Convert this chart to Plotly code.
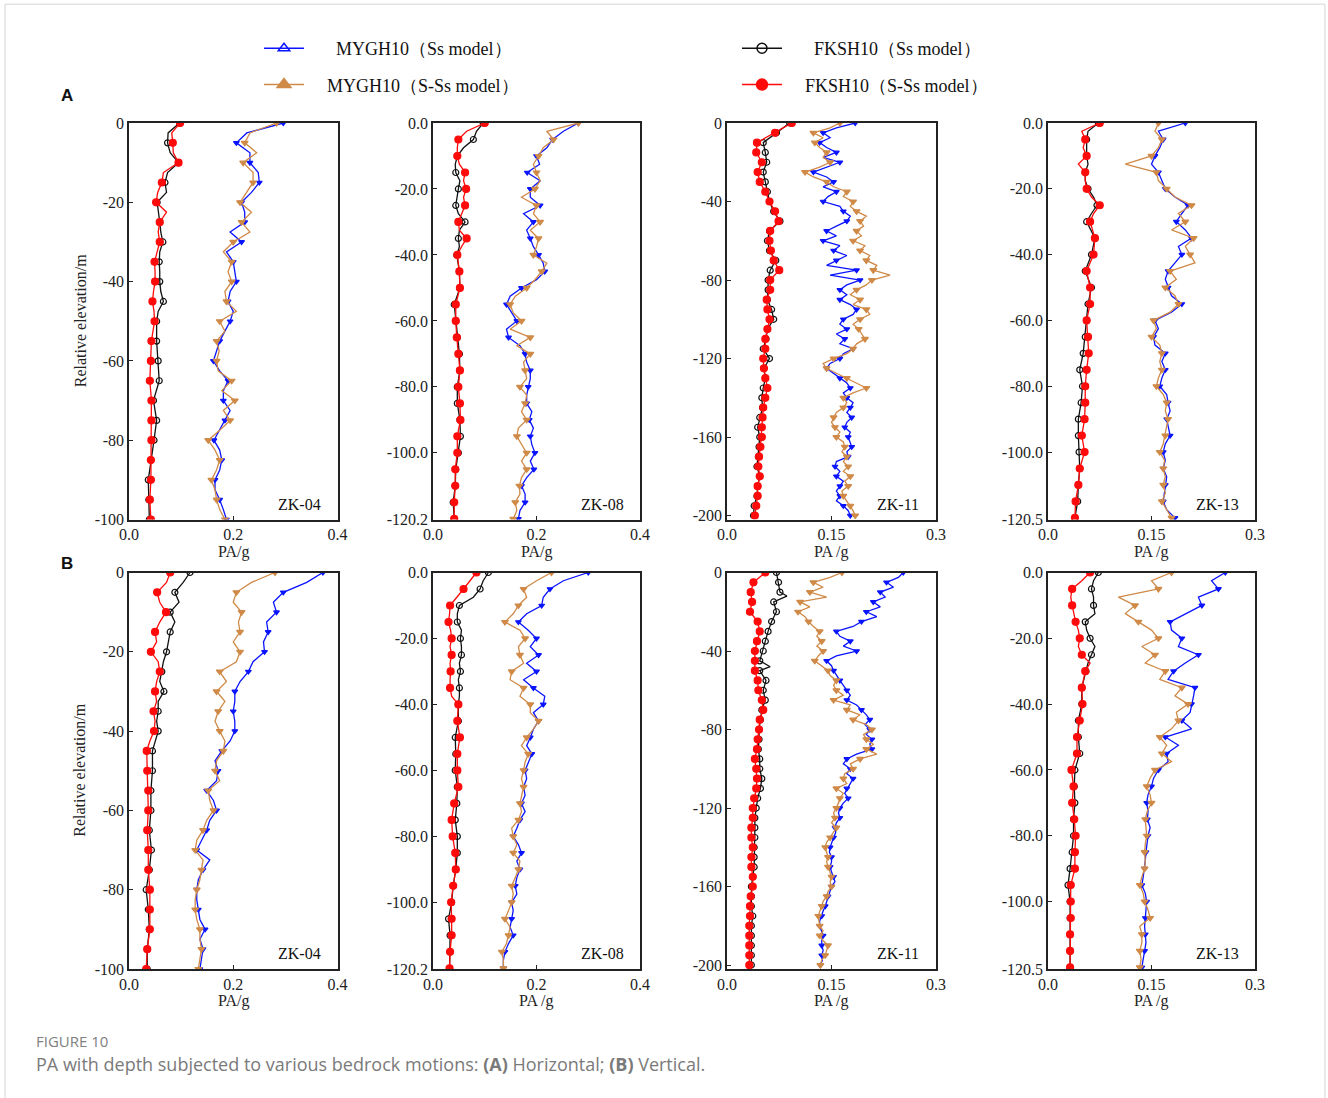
import plotly.graph_objects as go


def depths(*segments):
    """Relative elevations (m, negative downward) for inclusive (start, stop, step) depth runs."""
    out = []
    for start, stop, step in segments:
        n = int(round((stop - start) / step))
        for i in range(n + 1):
            d = -(start + i * step)
            if not out or abs(out[-1] - d) > 1e-9:
                out.append(round(d, 3))
    return out


# ---------------- (A) Horizontal bedrock motion ----------------
ZK04_H_FK_DEPTH = depths((0, 50, 2.5), (55, 100, 5))
ZK04_H_FKSH_SS = [0.097, 0.075, 0.074, 0.079, 0.095, 0.074, 0.069, 0.072, 0.054, 0.057, 0.059,
                  0.061, 0.065, 0.059, 0.058, 0.059, 0.059, 0.061, 0.066, 0.056, 0.053,
                  0.053, 0.056, 0.058, 0.047, 0.053, 0.048, 0.042, 0.037, 0.038, 0.039]
ZK04_H_FKSH_SSS = [0.098, 0.082, 0.084, 0.085, 0.095, 0.066, 0.063, 0.055, 0.052, 0.072, 0.059,
                   0.056, 0.059, 0.054, 0.049, 0.050, 0.050, 0.047, 0.045, 0.048, 0.049,
                   0.043, 0.042, 0.040, 0.043, 0.043, 0.043, 0.042, 0.042, 0.040, 0.042]
ZK04_H_MY_DEPTH = depths((0, 100, 2.5))
ZK04_H_MYGH_SS = [0.296, 0.226, 0.206, 0.232, 0.232, 0.248, 0.250, 0.235, 0.216, 0.222, 0.222,
                  0.194, 0.216, 0.187, 0.200, 0.203, 0.206, 0.194, 0.190, 0.200, 0.194,
                  0.184, 0.174, 0.168, 0.162, 0.174, 0.190, 0.181, 0.181, 0.194, 0.184,
                  0.174, 0.163, 0.174, 0.178, 0.174, 0.165, 0.165, 0.174, 0.181, 0.187]
ZK04_H_MYGH_SSS = [0.283, 0.232, 0.222, 0.245, 0.219, 0.238, 0.238, 0.226, 0.213, 0.235, 0.216,
                   0.232, 0.200, 0.181, 0.197, 0.190, 0.197, 0.184, 0.187, 0.206, 0.174,
                   0.184, 0.168, 0.173, 0.168, 0.171, 0.197, 0.178, 0.203, 0.181, 0.194,
                   0.174, 0.152, 0.165, 0.174, 0.168, 0.158, 0.165, 0.168, 0.174, 0.184]

ZK08_H_FK_DEPTH = depths((0, 40, 2.5), (45, 120, 5))
ZK08_H_FKSH_SS = [0.097, 0.084, 0.078, 0.059, 0.047, 0.043, 0.044, 0.052, 0.049, 0.047, 0.044,
                  0.049, 0.062, 0.051, 0.049, 0.051, 0.046,
                  0.051, 0.052, 0.041, 0.044, 0.047, 0.051, 0.052, 0.047, 0.047, 0.052,
                  0.053, 0.049, 0.044, 0.043, 0.039, 0.041]
ZK08_H_FKSH_SSS = [0.100, 0.065, 0.049, 0.047, 0.047, 0.051, 0.062, 0.059, 0.064, 0.059, 0.062,
                   0.055, 0.049, 0.051, 0.065, 0.055, 0.047,
                   0.051, 0.052, 0.044, 0.044, 0.046, 0.049, 0.052, 0.049, 0.052, 0.053,
                   0.047, 0.047, 0.043, 0.043, 0.041, 0.041]
ZK08_H_MY_DEPTH = depths((0, 120, 2.5))
ZK08_H_MYGH_SS = [0.281, 0.252, 0.231, 0.220, 0.200,
                  0.206, 0.182, 0.207, 0.188, 0.188, 0.207, 0.175, 0.194,
                  0.181, 0.188, 0.194, 0.204, 0.213, 0.216, 0.200, 0.171,
                  0.149, 0.142, 0.152, 0.162, 0.142, 0.146, 0.168, 0.178,
                  0.181, 0.188, 0.188, 0.184, 0.181, 0.181, 0.191, 0.186,
                  0.194, 0.188, 0.191, 0.197, 0.188, 0.195, 0.181, 0.171,
                  0.178, 0.178, 0.168, 0.165]
ZK08_H_MYGH_SSS = [0.281, 0.220, 0.233, 0.213, 0.204,
                   0.194, 0.200, 0.207, 0.197, 0.171, 0.200, 0.194, 0.207,
                   0.188, 0.204, 0.200, 0.194, 0.220, 0.210, 0.197, 0.181,
                   0.159, 0.149, 0.155, 0.171, 0.149, 0.188, 0.162, 0.188,
                   0.175, 0.178, 0.181, 0.168, 0.181, 0.178, 0.171, 0.181,
                   0.165, 0.162, 0.171, 0.181, 0.171, 0.181, 0.171, 0.167,
                   0.168, 0.159, 0.162, 0.155]

ZK11_H_FK_DEPTH = depths((0, 200, 5))
ZK11_H_FKSH_SS = [0.090, 0.071, 0.052, 0.055, 0.057, 0.052, 0.055, 0.058, 0.061, 0.067, 0.076,
                  0.061, 0.058, 0.061, 0.070, 0.062, 0.059, 0.059, 0.058, 0.064, 0.067,
                  0.058, 0.056, 0.052, 0.061, 0.053, 0.055, 0.052, 0.050, 0.051, 0.047,
                  0.044, 0.047, 0.046, 0.045, 0.043, 0.047, 0.044, 0.043, 0.039, 0.038]
ZK11_H_FKSH_SSS = [0.093, 0.069, 0.043, 0.042, 0.050, 0.044, 0.047, 0.055, 0.061, 0.069, 0.074,
                   0.062, 0.061, 0.063, 0.067, 0.075, 0.062, 0.062, 0.057, 0.058, 0.061,
                   0.058, 0.055, 0.055, 0.052, 0.053, 0.055, 0.058, 0.055, 0.052, 0.051,
                   0.050, 0.050, 0.048, 0.046, 0.045, 0.047, 0.044, 0.044, 0.042, 0.040]
ZK11_H_MY_DEPTH = depths((0, 200, 2.5))
ZK11_H_MYGH_SS = [0.184, 0.157, 0.138, 0.148, 0.133, 0.143, 0.157, 0.138,
                  0.162, 0.143, 0.124, 0.143, 0.153, 0.138, 0.157, 0.145,
                  0.138, 0.162, 0.167, 0.177, 0.172, 0.157, 0.143, 0.157,
                  0.138, 0.162, 0.153, 0.172, 0.157, 0.143, 0.186, 0.148,
                  0.191, 0.172, 0.162, 0.172, 0.162, 0.177, 0.186, 0.181,
                  0.167, 0.162, 0.172, 0.157, 0.169, 0.162, 0.181, 0.167,
                  0.162, 0.148, 0.143, 0.153, 0.162, 0.172, 0.177, 0.167,
                  0.172, 0.181, 0.177, 0.172, 0.179, 0.172, 0.169, 0.177,
                  0.174, 0.177, 0.179, 0.172, 0.174, 0.157, 0.155, 0.162,
                  0.157, 0.167, 0.162, 0.157, 0.162, 0.157, 0.167, 0.174,
                  0.177]
ZK11_H_MYGH_SSS = [0.162, 0.148, 0.124, 0.138, 0.126, 0.133, 0.143, 0.138,
                   0.148, 0.133, 0.112, 0.124, 0.143, 0.153, 0.172, 0.167,
                   0.181, 0.177, 0.186, 0.200, 0.191, 0.196, 0.186, 0.193,
                   0.181, 0.198, 0.191, 0.205, 0.200, 0.215, 0.210, 0.234,
                   0.208, 0.200, 0.186, 0.177, 0.191, 0.181, 0.200, 0.205,
                   0.191, 0.181, 0.189, 0.193, 0.198, 0.186, 0.181, 0.172,
                   0.153, 0.138, 0.143, 0.157, 0.172, 0.186, 0.200, 0.181,
                   0.167, 0.172, 0.167, 0.157, 0.153, 0.150, 0.155, 0.162,
                   0.157, 0.167, 0.169, 0.165, 0.172, 0.167, 0.174, 0.167,
                   0.177, 0.169, 0.174, 0.165, 0.167, 0.172, 0.177, 0.181,
                   0.184]

ZK13_H_FK_DEPTH = depths((0, 30, 2.5), (35, 120, 5))
ZK13_H_FKSH_SS = [0.073, 0.058, 0.056, 0.056, 0.056, 0.058, 0.054, 0.054, 0.058, 0.066, 0.071,
                  0.063, 0.056,
                  0.068, 0.063, 0.054, 0.063, 0.058, 0.056, 0.054, 0.051, 0.046, 0.050,
                  0.048, 0.044, 0.044, 0.045, 0.046, 0.044, 0.043, 0.039]
ZK13_H_FKSH_SSS = [0.075, 0.049, 0.054, 0.051, 0.056, 0.044, 0.054, 0.054, 0.056, 0.063, 0.075,
                   0.066, 0.061,
                   0.068, 0.066, 0.056, 0.061, 0.061, 0.056, 0.058, 0.059, 0.056, 0.054,
                   0.054, 0.053, 0.049, 0.053, 0.046, 0.044, 0.040, 0.039]
ZK13_H_MY_DEPTH = depths((0, 120, 2.5))
ZK13_H_MYGH_SS = [0.199, 0.160, 0.167, 0.162, 0.155,
                  0.150, 0.160, 0.165, 0.170, 0.184, 0.203, 0.194, 0.186,
                  0.199, 0.208, 0.189, 0.194, 0.184, 0.174, 0.170, 0.174,
                  0.179, 0.194, 0.179, 0.155, 0.160, 0.153, 0.155, 0.170,
                  0.165, 0.170, 0.165, 0.162, 0.172, 0.174, 0.177, 0.172,
                  0.174, 0.177, 0.170, 0.167, 0.170, 0.167, 0.172, 0.170,
                  0.169, 0.167, 0.172, 0.184]
ZK13_H_MYGH_SSS = [0.160, 0.155, 0.165, 0.160, 0.150,
                   0.112, 0.157, 0.160, 0.172, 0.184, 0.208, 0.189, 0.199,
                   0.179, 0.211, 0.199, 0.206, 0.213, 0.177, 0.186, 0.170,
                   0.184, 0.189, 0.177, 0.153, 0.157, 0.150, 0.162, 0.165,
                   0.162, 0.165, 0.160, 0.157, 0.167, 0.172, 0.170, 0.174,
                   0.172, 0.170, 0.167, 0.162, 0.169, 0.167, 0.170, 0.167,
                   0.170, 0.165, 0.172, 0.179]

# ---------------- (B) Vertical bedrock motion ----------------
ZK04_V_FK_DEPTH = depths((0, 45, 2.5), (50, 100, 5))
ZK04_V_FKSH_SS = [0.117, 0.104, 0.088, 0.096, 0.079, 0.088, 0.079, 0.075, 0.072, 0.066, 0.063,
                  0.059, 0.067, 0.056, 0.056, 0.053, 0.056, 0.050, 0.045,
                  0.045, 0.042, 0.042, 0.039, 0.043, 0.039, 0.033, 0.037, 0.039, 0.035, 0.035]
ZK04_V_FKSH_SSS = [0.079, 0.072, 0.054, 0.059, 0.071, 0.059, 0.050, 0.053, 0.042, 0.056, 0.059,
                   0.053, 0.050, 0.053, 0.047, 0.050, 0.048, 0.040, 0.034,
                   0.035, 0.037, 0.037, 0.035, 0.037, 0.037, 0.040, 0.040, 0.040, 0.035, 0.033]
ZK04_V_MY_DEPTH = depths((0, 100, 2.5))
ZK04_V_MYGH_SS = [0.372, 0.341, 0.296, 0.277, 0.283,
                  0.264, 0.267, 0.258, 0.260, 0.238, 0.229, 0.213, 0.203,
                  0.203, 0.200, 0.203, 0.203, 0.194, 0.178, 0.165, 0.171,
                  0.168, 0.149, 0.162, 0.168, 0.155, 0.149, 0.139, 0.130,
                  0.155, 0.142, 0.133, 0.130, 0.130, 0.133, 0.136, 0.146,
                  0.136, 0.142, 0.139, 0.136]
ZK04_V_MYGH_SSS = [0.280, 0.235, 0.206, 0.200, 0.216,
                   0.210, 0.213, 0.200, 0.213, 0.206, 0.174, 0.187, 0.168,
                   0.184, 0.171, 0.165, 0.174, 0.184, 0.181, 0.168, 0.165,
                   0.174, 0.152, 0.155, 0.162, 0.149, 0.142, 0.130, 0.127,
                   0.142, 0.139, 0.136, 0.130, 0.127, 0.127, 0.130, 0.136,
                   0.136, 0.139, 0.136, 0.133]

ZK08_V_FK_DEPTH = depths((0, 40, 2.5), (45, 120, 5))
ZK08_V_FKSH_SS = [0.107, 0.097, 0.091, 0.078, 0.051, 0.047, 0.047, 0.055, 0.053, 0.055, 0.055,
                  0.051, 0.053, 0.049, 0.051, 0.051, 0.049,
                  0.049, 0.043, 0.044, 0.043, 0.047, 0.046, 0.043, 0.047, 0.047, 0.044,
                  0.039, 0.036, 0.030, 0.033, 0.033, 0.032]
ZK08_V_FKSH_SSS = [0.084, 0.072, 0.059, 0.046, 0.033, 0.032, 0.030, 0.034, 0.036, 0.033, 0.036,
                   0.033, 0.034, 0.033, 0.033, 0.036, 0.049,
                   0.047, 0.052, 0.047, 0.047, 0.049, 0.041, 0.036, 0.038, 0.043, 0.044,
                   0.039, 0.035, 0.036, 0.036, 0.033, 0.032]
ZK08_V_MY_DEPTH = depths((0, 120, 2.5))
ZK08_V_MYGH_SS = [0.300, 0.252, 0.226, 0.213, 0.210,
                  0.181, 0.165, 0.184, 0.200, 0.188, 0.204, 0.181, 0.200,
                  0.175, 0.194, 0.216, 0.213, 0.194, 0.204, 0.194, 0.188,
                  0.181, 0.191, 0.184, 0.178, 0.181, 0.175, 0.178, 0.171,
                  0.178, 0.168, 0.162, 0.155, 0.165, 0.171, 0.162, 0.168,
                  0.162, 0.159, 0.162, 0.152, 0.155, 0.152, 0.149, 0.155,
                  0.146, 0.139, 0.136, 0.136]
ZK08_V_MYGH_SSS = [0.229, 0.200, 0.175, 0.181, 0.165,
                   0.155, 0.139, 0.168, 0.178, 0.165, 0.168, 0.175, 0.152,
                   0.149, 0.175, 0.168, 0.188, 0.188, 0.204, 0.194, 0.181,
                   0.171, 0.184, 0.178, 0.175, 0.171, 0.175, 0.171, 0.168,
                   0.171, 0.165, 0.152, 0.155, 0.162, 0.155, 0.168, 0.165,
                   0.159, 0.152, 0.155, 0.152, 0.146, 0.139, 0.149, 0.146,
                   0.142, 0.133, 0.136, 0.136]

ZK11_V_FK_DEPTH = depths((0, 10, 5), (12, 12, 1), (15, 45, 5), (48, 48, 1), (50, 200, 5))
ZK11_V_FKSH_SS = [0.071, 0.074, 0.076, 0.086, 0.067, 0.071, 0.064, 0.059, 0.055, 0.052, 0.047,
                  0.062, 0.047, 0.056, 0.052, 0.055, 0.050, 0.048, 0.046, 0.046, 0.045,
                  0.047, 0.047, 0.050, 0.048, 0.044, 0.042, 0.040, 0.040, 0.040, 0.039,
                  0.039, 0.039, 0.037, 0.035, 0.035, 0.035, 0.037, 0.035, 0.035, 0.035,
                  0.035, 0.035]
ZK11_V_FKSH_SSS = [0.055, 0.038, 0.034, 0.035, 0.036, 0.033, 0.044, 0.047, 0.043, 0.040, 0.040,
                   0.040, 0.040, 0.044, 0.045, 0.050, 0.052, 0.047, 0.046, 0.044, 0.043,
                   0.040, 0.042, 0.043, 0.042, 0.039, 0.037, 0.037, 0.035, 0.035, 0.037,
                   0.035, 0.035, 0.037, 0.037, 0.034, 0.033, 0.033, 0.032, 0.032, 0.032,
                   0.032, 0.032]
ZK11_V_MY_DEPTH = depths((0, 200, 2.5))
ZK11_V_MYGH_SS = [0.253, 0.246, 0.229, 0.239, 0.220, 0.227, 0.210, 0.220,
                  0.200, 0.215, 0.193, 0.181, 0.157, 0.162, 0.177, 0.167,
                  0.186, 0.157, 0.143, 0.150, 0.153, 0.157, 0.162, 0.167,
                  0.172, 0.177, 0.172, 0.186, 0.193, 0.200, 0.205, 0.198,
                  0.205, 0.200, 0.208, 0.205, 0.208, 0.186, 0.172, 0.167,
                  0.177, 0.172, 0.181, 0.177, 0.172, 0.169, 0.174, 0.167,
                  0.162, 0.160, 0.162, 0.157, 0.155, 0.156, 0.153, 0.150,
                  0.148, 0.147, 0.150, 0.150, 0.148, 0.150, 0.153, 0.155,
                  0.150, 0.148, 0.145, 0.143, 0.141, 0.138, 0.136, 0.133,
                  0.133, 0.136, 0.138, 0.136, 0.136, 0.138, 0.136, 0.137,
                  0.134]
ZK11_V_MYGH_SSS = [0.165, 0.148, 0.124, 0.138, 0.119, 0.143, 0.105, 0.119,
                   0.102, 0.112, 0.117, 0.124, 0.133, 0.129, 0.136, 0.129,
                   0.138, 0.131, 0.126, 0.136, 0.145, 0.148, 0.157, 0.153,
                   0.157, 0.167, 0.153, 0.177, 0.172, 0.191, 0.181, 0.200,
                   0.208, 0.196, 0.200, 0.210, 0.200, 0.215, 0.191, 0.177,
                   0.181, 0.169, 0.167, 0.172, 0.157, 0.167, 0.162, 0.160,
                   0.157, 0.153, 0.155, 0.150, 0.157, 0.153, 0.148, 0.143,
                   0.141, 0.143, 0.145, 0.143, 0.145, 0.148, 0.150, 0.148,
                   0.150, 0.145, 0.143, 0.138, 0.136, 0.133, 0.131, 0.132,
                   0.133, 0.138, 0.133, 0.138, 0.145, 0.143, 0.141, 0.136,
                   0.134]

ZK13_V_FK_DEPTH = depths((0, 30, 2.5), (35, 120, 5))
ZK13_V_FKSH_SS = [0.073, 0.066, 0.063, 0.066, 0.066, 0.068, 0.054, 0.056, 0.061, 0.068, 0.063,
                  0.058, 0.055,
                  0.049, 0.049, 0.044, 0.044, 0.046, 0.039, 0.038, 0.039, 0.037, 0.037,
                  0.035, 0.032, 0.029, 0.032, 0.032, 0.032, 0.032, 0.032]
ZK13_V_FKSH_SSS = [0.061, 0.049, 0.035, 0.033, 0.035, 0.037, 0.040, 0.044, 0.046, 0.044, 0.049,
                   0.061, 0.054,
                   0.049, 0.050, 0.046, 0.042, 0.042, 0.034, 0.037, 0.035, 0.038, 0.040,
                   0.039, 0.039, 0.033, 0.033, 0.033, 0.032, 0.032, 0.032]
ZK13_V_MY_DEPTH = depths((0, 120, 2.5))
ZK13_V_MYGH_SS = [0.257, 0.237, 0.247, 0.218, 0.223,
                  0.199, 0.177, 0.179, 0.194, 0.189, 0.218, 0.199, 0.182,
                  0.174, 0.213, 0.211, 0.208, 0.206, 0.194, 0.208, 0.170,
                  0.189, 0.172, 0.174, 0.160, 0.153, 0.150, 0.145, 0.143,
                  0.145, 0.144, 0.148, 0.145, 0.143, 0.142, 0.141, 0.140,
                  0.138, 0.136, 0.141, 0.143, 0.142, 0.141, 0.140, 0.141,
                  0.142, 0.140, 0.138, 0.136]
ZK13_V_MYGH_SSS = [0.179, 0.150, 0.160, 0.102, 0.126,
                   0.112, 0.131, 0.150, 0.160, 0.136, 0.155, 0.141, 0.170,
                   0.162, 0.194, 0.184, 0.203, 0.186, 0.189, 0.179, 0.162,
                   0.172, 0.165, 0.179, 0.155, 0.148, 0.143, 0.148, 0.150,
                   0.144, 0.141, 0.142, 0.143, 0.141, 0.140, 0.141, 0.140,
                   0.136, 0.133, 0.138, 0.140, 0.145, 0.148, 0.133, 0.136,
                   0.136, 0.133, 0.135, 0.133]

# Panel order: row A (horizontal) then row B (vertical), boreholes left to right
BOREHOLES = ["ZK-04", "ZK-08", "ZK-11", "ZK-13"]
X_TITLES = ["PA/g", "PA/g", "PA /g", "PA /g", "PA/g", "PA /g", "PA /g", "PA /g"]
PANEL_DATA = [
    (ZK04_H_FK_DEPTH, ZK04_H_FKSH_SS, ZK04_H_FKSH_SSS, ZK04_H_MY_DEPTH, ZK04_H_MYGH_SS, ZK04_H_MYGH_SSS),
    (ZK08_H_FK_DEPTH, ZK08_H_FKSH_SS, ZK08_H_FKSH_SSS, ZK08_H_MY_DEPTH, ZK08_H_MYGH_SS, ZK08_H_MYGH_SSS),
    (ZK11_H_FK_DEPTH, ZK11_H_FKSH_SS, ZK11_H_FKSH_SSS, ZK11_H_MY_DEPTH, ZK11_H_MYGH_SS, ZK11_H_MYGH_SSS),
    (ZK13_H_FK_DEPTH, ZK13_H_FKSH_SS, ZK13_H_FKSH_SSS, ZK13_H_MY_DEPTH, ZK13_H_MYGH_SS, ZK13_H_MYGH_SSS),
    (ZK04_V_FK_DEPTH, ZK04_V_FKSH_SS, ZK04_V_FKSH_SSS, ZK04_V_MY_DEPTH, ZK04_V_MYGH_SS, ZK04_V_MYGH_SSS),
    (ZK08_V_FK_DEPTH, ZK08_V_FKSH_SS, ZK08_V_FKSH_SSS, ZK08_V_MY_DEPTH, ZK08_V_MYGH_SS, ZK08_V_MYGH_SSS),
    (ZK11_V_FK_DEPTH, ZK11_V_FKSH_SS, ZK11_V_FKSH_SSS, ZK11_V_MY_DEPTH, ZK11_V_MYGH_SS, ZK11_V_MYGH_SSS),
    (ZK13_V_FK_DEPTH, ZK13_V_FKSH_SS, ZK13_V_FKSH_SSS, ZK13_V_MY_DEPTH, ZK13_V_MYGH_SS, ZK13_V_MYGH_SSS),
]

# Axis settings per borehole column
X_RANGE = [0.4, 0.4, 0.3, 0.3]
X_TICKS = [[0, 0.2, 0.4], [0, 0.2, 0.4], [0, 0.15, 0.3], [0, 0.15, 0.3]]
X_TICKTEXT = [["0.0", "0.2", "0.4"], ["0.0", "0.2", "0.4"], ["0.0", "0.15", "0.3"], ["0.0", "0.15", "0.3"]]
Y_BOTTOM = [-100, -120.2, -202, -120.5]
Y_TICKS = [[0, -20, -40, -60, -80, -100],
           [0, -20, -40, -60, -80, -100, -120.2],
           [0, -40, -80, -120, -160, -200],
           [0, -20, -40, -60, -80, -100, -120.5]]
Y_TICKTEXT = [["0", "-20", "-40", "-60", "-80", "-100"],
              ["0.0", "-20.0", "-40.0", "-60.0", "-80.0", "-100.0", "-120.2"],
              ["0", "-40", "-80", "-120", "-160", "-200"],
              ["0.0", "-20.0", "-40.0", "-60.0", "-80.0", "-100.0", "-120.5"]]

W, H = 1328, 1098
COL_PX = [(129, 337.5), (433, 640), (727, 936), (1048, 1255)]
ROW_PX = [(123, 519.5), (572.5, 969)]

BLUE = "#0a14ff"
ORANGE = "#d08a48"
BLACK = "#111111"
RED = "#ff0a0a"
SERIF = "Liberation Serif"

STYLE = {
    "MYGH_SS": dict(color=BLUE, symbol="triangle-down", size=5),
    "MYGH_SSS": dict(color=ORANGE, symbol="triangle-down", size=6),
    "FKSH_SS": dict(color=BLACK, symbol="circle-open", size=6),
    "FKSH_SSS": dict(color=RED, symbol="circle", size=7),
}

fig = go.Figure()


def axis_ids(idx):
    suffix = "" if idx == 1 else str(idx)
    return "x" + suffix, "y" + suffix, "xaxis" + suffix, "yaxis" + suffix


def add_series(depth, values, key, xa, ya):
    assert len(depth) == len(values), (key, xa, len(depth), len(values))
    st = STYLE[key]
    fig.add_trace(go.Scatter(x=values, y=depth, mode="lines", xaxis=xa, yaxis=ya,
                             line=dict(color=st["color"], width=1.3), showlegend=False,
                             hoverinfo="skip"))
    # symbols every 5 m of depth
    on_five = [abs(d / 5 - round(d / 5)) < 1e-6 for d in depth]
    mx = [v for v, keep in zip(values, on_five) if keep]
    my = [d for d, keep in zip(depth, on_five) if keep]
    fig.add_trace(go.Scatter(x=mx, y=my, mode="markers", xaxis=xa, yaxis=ya,
                             marker=dict(color=st["color"], symbol=st["symbol"], size=st["size"],
                                         line=dict(color=st["color"], width=1.2)),
                             showlegend=False, hoverinfo="skip"))


layout = {}
annotations = []
for k, (fk_d, fk_ss, fk_sss, my_d, my_ss, my_sss) in enumerate(PANEL_DATA):
    row, col = divmod(k, 4)
    xa, ya, xkey, ykey = axis_ids(k + 1)
    add_series(my_d, my_ss, "MYGH_SS", xa, ya)
    add_series(my_d, my_sss, "MYGH_SSS", xa, ya)
    add_series(fk_d, fk_ss, "FKSH_SS", xa, ya)
    add_series(fk_d, fk_sss, "FKSH_SSS", xa, ya)

    x0, x1 = COL_PX[col]
    y0, y1 = ROW_PX[row]
    axis_common = dict(showline=True, mirror=True, linecolor="#222", linewidth=1.5,
                       ticks="inside", ticklen=4, tickcolor="#222", tickwidth=1,
                       showgrid=False, zeroline=False, fixedrange=True, automargin=False,
                       tickfont=dict(family=SERIF, size=16, color="#222"))
    layout[xkey] = dict(domain=[x0 / W, x1 / W], anchor=ya, range=[0, X_RANGE[col]],
                        tickmode="array", tickvals=X_TICKS[col], ticktext=X_TICKTEXT[col],
                        **axis_common)
    layout[ykey] = dict(domain=[1 - y1 / H, 1 - y0 / H], anchor=xa,
                        range=[Y_BOTTOM[col], 0],
                        tickmode="array", tickvals=Y_TICKS[col], ticktext=Y_TICKTEXT[col],
                        **axis_common)
    annotations.append(dict(text=BOREHOLES[col], xref=f"{xa} domain", yref=f"{ya} domain",
                            x=0.93, y=0.012, xanchor="right", yanchor="bottom", showarrow=False,
                            font=dict(family=SERIF, size=16, color="#111")))
    annotations.append(dict(text=X_TITLES[k], xref=f"{xa} domain", yref=f"{ya} domain",
                            x=0.5, y=-(32 / (y1 - y0)), xanchor="center", yanchor="middle",
                            showarrow=False, font=dict(family=SERIF, size=16, color="#222")))
    if col == 0:
        annotations.append(dict(text="Relative elevation/m", xref="paper", yref=f"{ya} domain",
                                x=80 / W, y=0.5, xanchor="center", yanchor="middle",
                                textangle=-90, showarrow=False,
                                font=dict(family=SERIF, size=16, color="#222")))

# Legend entries (symbols only, no data); en spaces set the gap after each symbol
LEGEND_ITEMS = [
    ("\u2002\u2002\u2002MYGH10（Ss model）", BLUE, "triangle-up-open", 10, "legend"),
    ("\u2002\u2002MYGH10（S-Ss model）", ORANGE, "triangle-up", 12, "legend"),
    ("\u2002\u2002\u2002FKSH10（Ss model）", BLACK, "circle-open", 10, "legend2"),
    ("\u2002\u2002FKSH10（S-Ss model）", RED, "circle", 11, "legend2"),
]
for i, (name, color, symbol, size, leg) in enumerate(LEGEND_ITEMS):
    fig.add_trace(go.Scatter(x=[None], y=[None], mode="lines+markers", name=name,
                             xaxis="x", yaxis="y", legend=leg, legendgroup=f"g{i}",
                             line=dict(color=color, width=1.5),
                             marker=dict(color=color, symbol=symbol, size=size,
                                         line=dict(color=color, width=1.5))))

annotations += [
    dict(text="<b>A</b>", xref="paper", yref="paper", x=67 / W, y=1 - 96 / H,
         xanchor="center", yanchor="middle", showarrow=False,
         font=dict(family="Liberation Sans", size=17, color="#111")),
    dict(text="<b>B</b>", xref="paper", yref="paper", x=67 / W, y=1 - 563 / H,
         xanchor="center", yanchor="middle", showarrow=False,
         font=dict(family="Liberation Sans", size=17, color="#111")),
    dict(text="FIGURE 10", xref="paper", yref="paper", x=34 / W, y=1 - 1041 / H,
         xanchor="left", yanchor="middle", showarrow=False,
         font=dict(family="Open Sans", size=15, color="#808080")),
    dict(text="PA with depth subjected to various bedrock motions: <b>(A)</b> Horizontal; "
              "<b>(B)</b> Vertical.",
         xref="paper", yref="paper", x=34 / W, y=1 - 1064 / H,
         xanchor="left", yanchor="middle", showarrow=False,
         font=dict(family="Open Sans", size=18, color="#7a7a7a")),
]

legend_common = dict(font=dict(family=SERIF, size=18, color="#111"), bgcolor="rgba(0,0,0,0)",
                     xanchor="left", yanchor="top", tracegroupgap=10, itemwidth=40,
                     orientation="v")

fig.update_layout(
    width=W, height=H,
    margin=dict(l=0, r=0, t=0, b=0, pad=0, autoexpand=False),
    paper_bgcolor="white", plot_bgcolor="white",
    showlegend=True,
    legend=dict(x=259 / W, y=1 - 30 / H, **legend_common),
    legend2=dict(x=737 / W, y=1 - 30 / H, **legend_common),
    annotations=annotations,
    shapes=[dict(type="path", xref="paper", yref="paper",
                 path="M 0.0038,0 L 0.0038,0.9962 L 0.9977,0.9962 L 0.9977,0",
                 line=dict(color="#d4d4d4", width=1))],
    **layout,
)

fig.write_html("out.html", post_script="document.body.style.margin='0';")
